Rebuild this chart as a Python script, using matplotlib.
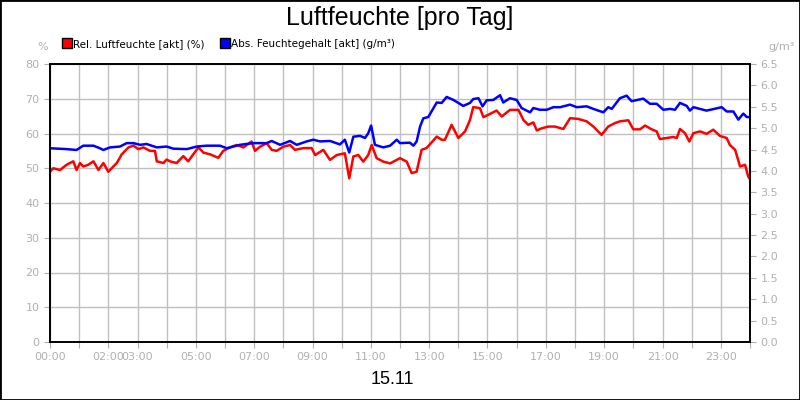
import matplotlib
matplotlib.use("Agg")
import matplotlib.pyplot as plt
from matplotlib.patches import Rectangle
from matplotlib.lines import Line2D

red_t = [0,0.11,0.34,0.57,0.8,0.91,1.03,1.14,1.31,1.49,1.66,1.83,2.0,2.17,2.29,2.46,2.69,2.86,3.03,3.2,3.43,3.6,3.66,3.89,4.0,4.11,4.34,4.57,4.74,4.91,5.09,5.26,5.49,5.77,5.94,6.17,6.4,6.63,6.91,7.03,7.2,7.43,7.6,7.77,8.0,8.23,8.4,8.69,8.97,9.09,9.37,9.6,9.83,10.11,10.26,10.4,10.57,10.74,10.91,11.03,11.2,11.43,11.66,12.0,
         12.23,12.4,12.57,12.74,12.91,13.26,13.43,13.54,13.77,14.0,14.23,14.4,14.51,14.74,14.86,15.03,15.31,15.49,15.77,16.06,16.23,16.4,16.57,16.69,16.86,17.09,17.31,17.6,17.83,18.11,18.4,18.63,18.91,19.14,19.37,19.54,19.83,20.0,20.23,20.4,20.63,20.8,20.91,21.14,21.37,21.49,21.6,21.77,21.92,22.06,22.29,22.51,22.74,22.97,23.2,23.31,23.49,23.66,23.83,23.94,24.0]
red_v = [49,50,49.5,51,52,49.5,51.5,50.5,51,52,49.5,51.5,49,50.5,51.5,54,56,56.5,55.5,56,55,55,52,51.5,52.5,52,51.5,53.5,52,54,56,54.5,54,53,55,56,56.7,56,57.7,55,56.2,57.2,55.3,55,56.2,56.7,55.3,55.8,55.8,53.8,55.3,52.4,53.8,54.3,47.1,53.4,53.8,51.9,53.8,56.7,52.9,51.9,51.4,52.9,
         51.9,48.6,49,55.3,55.8,59.1,58.2,58.2,62.5,58.7,60.6,63.9,67.6,67.3,64.7,65.4,66.6,64.9,66.8,66.8,63.9,62.5,63.2,60.9,61.5,62,62,61.3,64.4,64.2,63.5,62,59.6,62,63,63.5,63.8,61.2,61.2,62.3,61.2,60.6,58.4,58.7,59,58.7,61.3,60.1,57.7,60.1,60.6,59.9,61.1,59.3,58.7,56.7,55.3,50.5,51,47.6,46.9]

blue_t = [0,0.57,0.91,1.14,1.49,1.71,1.83,2.06,2.4,2.63,2.86,3.09,3.31,3.66,4.0,4.23,4.69,5.03,5.37,5.83,6.06,6.51,6.97,7.43,7.6,7.89,8.23,8.46,8.8,9.03,9.26,9.6,9.94,10.11,10.26,10.4,10.63,10.8,10.91,11.01,11.14,11.43,11.66,11.89,
          12.0,12.34,12.46,12.57,12.69,12.8,12.97,13.26,13.43,13.6,13.83,14.17,14.4,14.51,14.69,14.83,14.97,15.2,15.43,15.54,15.77,16.0,16.17,16.46,16.57,16.8,17.03,17.26,17.49,17.83,18.06,18.4,18.63,18.97,19.14,19.26,19.54,19.77,19.94,20.34,20.57,20.8,21.03,21.26,21.43,21.6,21.83,21.94,22.06,22.51,23.03,23.2,23.43,23.6,23.77,23.89,24.0]
blue_v = [4.53,4.51,4.49,4.59,4.59,4.53,4.49,4.55,4.57,4.65,4.65,4.61,4.63,4.55,4.57,4.52,4.51,4.57,4.59,4.59,4.53,4.61,4.65,4.65,4.70,4.61,4.70,4.61,4.69,4.73,4.69,4.70,4.62,4.73,4.43,4.80,4.82,4.77,4.88,5.06,4.61,4.55,4.59,4.73,
          4.65,4.66,4.59,4.69,5.04,5.23,5.26,5.60,5.59,5.73,5.66,5.52,5.59,5.68,5.70,5.51,5.65,5.66,5.77,5.60,5.70,5.66,5.47,5.37,5.47,5.43,5.43,5.49,5.49,5.55,5.49,5.51,5.45,5.37,5.49,5.45,5.70,5.76,5.63,5.69,5.57,5.57,5.43,5.45,5.43,5.59,5.52,5.41,5.49,5.41,5.49,5.39,5.39,5.20,5.34,5.26,5.26]

xtick_pos = [0,2,3,5,7,9,11,13,15,17,19,21,23]
xtick_lbl = ["00:00","02:00","03:00","05:00","07:00","09:00","11:00","13:00","15:00","17:00","19:00","21:00","23:00"]

gray = "#b0b0b0"
fig = plt.figure(figsize=(8, 4), dpi=100)
fig.patches.append(Rectangle((0, 0), 1, 1, transform=fig.transFigure, fill=False, edgecolor="black", linewidth=2))
ax = fig.add_axes([0.0625, 0.145, 0.875, 0.695])
ax2 = ax.twinx()

ax.plot(red_t, red_v, color="#ff0000", lw=1.8)
ax2.plot(blue_t, blue_v, color="#0000ff", lw=1.8)

ax.set_xlim(0, 24)
ax.set_ylim(0, 80)
ax2.set_ylim(0, 6.5)
ax.set_xticks(range(25), minor=False)
ax.set_xticklabels([xtick_lbl[xtick_pos.index(h)] if h in xtick_pos else "" for h in range(25)])
ax.set_yticks(range(0, 81, 10))
ax2.set_yticks([i * 0.5 for i in range(14)])
ax2.set_yticklabels([f"{i*0.5:.1f}" for i in range(14)])
ax.grid(True, color="#c0c0c0", lw=1)
ax.set_axisbelow(True)
for a in (ax, ax2):
    a.tick_params(colors=gray, labelsize=8, length=4, labelcolor=gray)
    for s in a.spines.values():
        s.set_color("black")
        s.set_linewidth(1.2)

fig.text(0.5, 0.955, "Luftfeuchte [pro Tag]", ha="center", va="center", fontsize=18, family="Liberation Sans")
fig.text(0.49, 0.05, "15.11", ha="center", va="center", fontsize=13, family="Liberation Sans")
fig.text(0.053, 0.882, "%", ha="center", va="center", fontsize=8, color=gray)
fig.text(0.977, 0.882, "g/m³", ha="center", va="center", fontsize=8, color=gray)

handles = [Line2D([], [], marker="s", ls="", markerfacecolor="#ff0000", markeredgecolor="black", markersize=7),
           Line2D([], [], marker="s", ls="", markerfacecolor="#0000ff", markeredgecolor="black", markersize=7)]
fig.legend(handles, ["Rel. Luftfeuchte [akt] (%)", "Abs. Feuchtegehalt [akt] (g/m³)"], loc="center left",
           bbox_to_anchor=(0.065, 0.89), ncol=2, frameon=False, fontsize=7.5, handletextpad=0.1, columnspacing=1.5,
           handlelength=1)

fig.savefig("out.png", dpi=100)
